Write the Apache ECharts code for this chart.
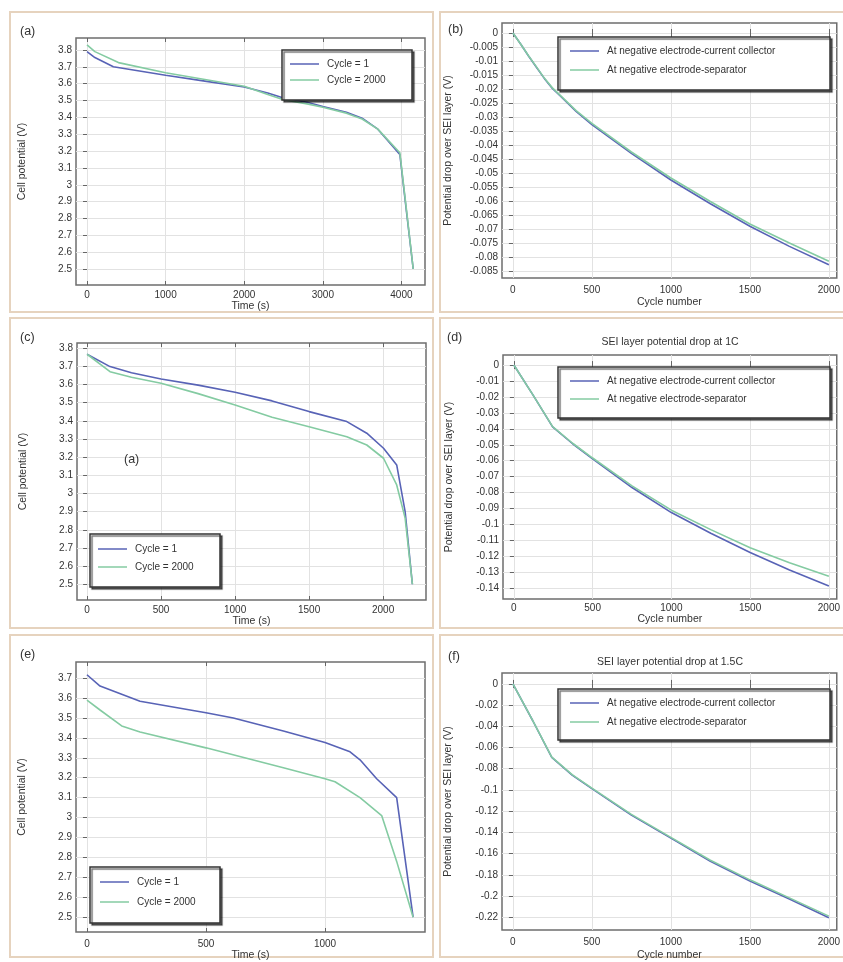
<!DOCTYPE html>
<html><head><meta charset="utf-8">
<script src="https://cdn.jsdelivr.net/npm/echarts@6/dist/echarts.min.js"></script>
<style>html,body{margin:0;padding:0;background:#fff}#c{width:843px;height:962px}</style>
</head><body><div id="c"></div>
<script>
// ---------------- DATA ----------------
// (a) discharge curves, time (s) vs cell potential (V)
const a_t_c1    = [0,100,335,1000,1500,2000,2300,2500,2800,3000,3300,3500,3700,3980,4067,4150];
const a_v_c1    = [3.79,3.755,3.70,3.65,3.615,3.58,3.545,3.515,3.49,3.465,3.43,3.395,3.33,3.18,2.83,2.5];
const a_t_c2000 = [0,100,400,1000,1500,2000,2300,2500,2800,3000,3300,3500,3700,3980,4067,4150];
const a_v_c2000 = [3.83,3.79,3.725,3.665,3.625,3.585,3.535,3.505,3.48,3.46,3.425,3.39,3.33,3.19,2.84,2.5];
// (b) SEI potential drop (V) vs cycle number
const b_n   = [0,50,100,150,200,250,300,400,500,750,1000,1250,1500,1750,2000];
const b_cc  = [0,-0.004,-0.0083,-0.0123,-0.0163,-0.0198,-0.0225,-0.028,-0.0327,-0.043,-0.0525,-0.061,-0.069,-0.0762,-0.0828];
const b_sep = [0,-0.004,-0.0082,-0.0122,-0.0162,-0.0196,-0.0223,-0.0277,-0.0323,-0.0425,-0.0518,-0.0602,-0.0682,-0.075,-0.0815];
// (c) discharge curves
const c_t_c1    = [0,155,300,500,750,1000,1250,1500,1755,1890,2003,2092,2149,2198];
const c_v_c1    = [3.767,3.699,3.665,3.631,3.597,3.558,3.51,3.451,3.396,3.332,3.249,3.157,2.90,2.5];
const c_t_c2000 = [0,155,300,500,750,1000,1250,1500,1755,1890,2003,2092,2149,2198];
const c_v_c2000 = [3.767,3.671,3.64,3.607,3.55,3.488,3.42,3.368,3.313,3.267,3.194,3.047,2.864,2.5];
// (d) SEI potential drop at 1C
const d_n   = [0,125,246,375,500,750,1000,1250,1500,1750,2000];
const d_cc  = [0,-0.0193,-0.0388,-0.0495,-0.0588,-0.0768,-0.0925,-0.1055,-0.1175,-0.1285,-0.1385];
const d_sep = [0,-0.0193,-0.0386,-0.0492,-0.0583,-0.0758,-0.091,-0.1032,-0.1145,-0.124,-0.1325];
// (e) discharge curves
const e_t_c1    = [0,55,223,500,615,825,1000,1105,1147,1217,1301,1370];
const e_v_c1    = [3.717,3.66,3.584,3.526,3.50,3.435,3.377,3.33,3.29,3.195,3.10,2.5];
const e_t_c2000 = [0,55,146,223,500,825,1000,1042,1147,1238,1301,1370];
const e_v_c2000 = [3.59,3.54,3.46,3.43,3.35,3.25,3.195,3.18,3.10,3.01,2.78,2.5];
// (f) SEI potential drop at 1.5C
const f_n   = [0,125,246,375,500,750,1000,1250,1500,1750,2000];
const f_cc  = [0,-0.0345,-0.0693,-0.086,-0.0988,-0.1237,-0.1454,-0.1672,-0.1858,-0.2029,-0.2205];
const f_sep = [0,-0.0343,-0.069,-0.0855,-0.0983,-0.123,-0.1447,-0.1663,-0.1848,-0.2018,-0.219];

// tick values
const aXTicks = [0,1000,2000,3000,4000];
const cXTicks = [0,500,1000,1500,2000];
const eXTicks = [0,500,1000];
const nXTicks = [0,500,1000,1500,2000];
const acYTicks = [2.5,2.6,2.7,2.8,2.9,3.0,3.1,3.2,3.3,3.4,3.5,3.6,3.7,3.8];
const eYTicks  = [2.5,2.6,2.7,2.8,2.9,3.0,3.1,3.2,3.3,3.4,3.5,3.6,3.7];
const bYTicks  = [0,-0.005,-0.01,-0.015,-0.02,-0.025,-0.03,-0.035,-0.04,-0.045,-0.05,-0.055,-0.06,-0.065,-0.07,-0.075,-0.08,-0.085];
const dYTicks  = [0,-0.01,-0.02,-0.03,-0.04,-0.05,-0.06,-0.07,-0.08,-0.09,-0.1,-0.11,-0.12,-0.13,-0.14];
const fYTicks  = [0,-0.02,-0.04,-0.06,-0.08,-0.1,-0.12,-0.14,-0.16,-0.18,-0.2,-0.22];

const cycleNames = ['Cycle = 1','Cycle = 2000'];
const seiNames = ['At negative electrode-current collector','At negative electrode-separator'];

// ---------------- STYLE / LAYOUT ----------------
const FONT = '"Liberation Sans", Arial, sans-serif';
const BLUE = '#5863b6';
const GREEN = '#84cba2';
const zip = (xs, ys) => xs.map((x, i) => [x, ys[i]]);
const fmtV = v => String(Math.round(v * 10) / 10);
const fmtS = v => { const r = parseFloat(v.toFixed(3)); return r === 0 ? '0' : String(r); };

const panels = [
  {grid:{left:76,top:38,width:349,height:247}, x:[-140,4300], y:[2.405,3.871], xt:aXTicks, yt:acYTicks, fy:fmtV,
   xName:'Time (s)', yName:'Cell potential (V)', lm:5, ng:12.5, names:cycleNames,
   s:[zip(a_t_c1,a_v_c1), zip(a_t_c2000,a_v_c2000)]},
  {grid:{left:502,top:23,width:339,height:255}, x:[-69,2050], y:[-0.0875,0.00357], xt:nXTicks, yt:bYTicks, fy:fmtS,
   xName:'Cycle number', yName:'Potential drop over SEI layer (V)', lm:7, ng:19, names:seiNames,
   s:[zip(b_n,b_cc), zip(b_n,b_sep)]},
  {grid:{left:77,top:343,width:349,height:257}, x:[-68,2290], y:[2.413,3.829], xt:cXTicks, yt:acYTicks, fy:fmtV,
   xName:'Time (s)', yName:'Cell potential (V)', lm:5, ng:15, names:cycleNames,
   s:[zip(c_t_c1,c_v_c1), zip(c_t_c2000,c_v_c2000)]},
  {grid:{left:503,top:355,width:338,height:244}, x:[-69,2050], y:[-0.1467,0.0063], xt:nXTicks, yt:dYTicks, fy:fmtS,
   xName:'Cycle number', yName:'Potential drop over SEI layer (V)', lm:4, ng:14, names:seiNames,
   s:[zip(d_n,d_cc), zip(d_n,d_sep)]},
  {grid:{left:76,top:662,width:349,height:273}, x:[-46,1420], y:[2.4255,3.781], xt:eXTicks, yt:eYTicks, fy:fmtV,
   xName:'Time (s)', yName:'Cell potential (V)', lm:7, ng:18, names:cycleNames,
   s:[zip(e_t_c1,e_v_c1), zip(e_t_c2000,e_v_c2000)]},
  {grid:{left:502,top:673,width:339,height:260}, x:[-69,2050], y:[-0.2321,0.0103], xt:nXTicks, yt:fYTicks, fy:fmtS,
   xName:'Cycle number', yName:'Potential drop over SEI layer (V)', lm:7, ng:20, names:seiNames,
   s:[zip(f_n,f_cc), zip(f_n,f_sep)]}
];

const legendPos = [
  {left:290, top:59, itemGap:6},
  {left:570, top:46, itemGap:9},
  {left:98,  top:544, itemGap:8},
  {left:570, top:376, itemGap:8},
  {left:100, top:877, itemGap:10},
  {left:570, top:698, itemGap:9}
];
const legendBoxes = [
  [282,50,130,50],[558,37,272,53],[90,534,130,53],[558,367,272,51],[90,867,130,56],[558,689,272,51]
];

const grids = [], xAxes = [], yAxes = [], series = [], legends = [];
panels.forEach((p, i) => {
  grids.push(Object.assign({show:true, borderColor:'#6e6e6e', borderWidth:1.5, backgroundColor:'#fff'}, p.grid));
  const tickStyle = {lineStyle:{color:'#666', width:1}};
  xAxes.push({type:'value', gridIndex:i, min:p.x[0], max:p.x[1], position:'bottom',
    name:p.xName, nameLocation:'middle', nameGap:p.ng,
    nameTextStyle:{fontFamily:FONT, fontSize:10.5, color:'#333'},
    axisLine:{show:false},
    axisTick:{show:true, inside:true, length:4, customValues:p.xt, lineStyle:{color:'#666'}},
    axisLabel:{show:true, customValues:p.xt, margin:p.lm, fontFamily:FONT, fontSize:10, color:'#333', formatter:v => String(v)},
    splitLine:{show:true, lineStyle:{color:'#e2e2e2', width:1}}
  });
  xAxes.push({type:'value', gridIndex:i, min:p.x[0], max:p.x[1], position:'top',
    axisLine:{show:false}, axisLabel:{show:false}, splitLine:{show:false},
    axisTick:{show:true, inside:true, length:4, customValues:p.xt, lineStyle:{color:'#666'}}});
  yAxes.push({type:'value', gridIndex:i, min:p.y[0], max:p.y[1], position:'left',
    name:p.yName, nameLocation:'middle', nameGap:48, nameRotate:90,
    nameTextStyle:{fontFamily:FONT, fontSize:10.5, color:'#333'},
    axisLine:{show:false},
    axisTick:{show:true, inside:false, length:3, customValues:p.yt, lineStyle:{color:'#666'}},
    axisLabel:{show:true, customValues:p.yt, margin:4, fontFamily:FONT, fontSize:10, color:'#333', formatter:p.fy},
    splitLine:{show:true, lineStyle:{color:'#e2e2e2', width:1}}
  });
  yAxes.push({type:'value', gridIndex:i, min:p.y[0], max:p.y[1], position:'right',
    axisLine:{show:false}, axisLabel:{show:false}, splitLine:{show:false},
    axisTick:{show:true, inside:true, length:4, customValues:p.yt, lineStyle:{color:'#666'}}});
  [BLUE, GREEN].forEach((col, k) => {
    series.push({type:'line', name:p.names[k], xAxisIndex:2*i, yAxisIndex:2*i, data:p.s[k],
      showSymbol:false, symbol:'none', silent:true, animation:false, z:2+k,
      color:col, lineStyle:{color:col, width:1.6}});
  });
  legends.push(Object.assign({orient:'vertical', padding:0, icon:'rect', itemWidth:29, itemHeight:1.5,
    data:p.names, selectedMode:false, z:10,
    textStyle:{fontFamily:FONT, fontSize:10, color:'#333', padding:[0,0,0,3]}}, legendPos[i]));
});

const graphic = [];
// panel frames
[[10,12,423,300],[440,12,410,300],[10,318,423,310],[440,318,410,310],[10,635,423,322],[440,635,410,322]].forEach(r => {
  graphic.push({type:'rect', shape:{x:r[0], y:r[1], width:r[2], height:r[3]}, z:-1,
    style:{fill:'none', stroke:'#e6d3be', lineWidth:2}});
});
// legend boxes
legendBoxes.forEach(r => {
  graphic.push({type:'rect', shape:{x:r[0], y:r[1], width:r[2], height:r[3]}, z:5,
    style:{fill:'#fff', stroke:'#333', lineWidth:1.5, shadowColor:'rgba(0,0,0,0.55)', shadowOffsetX:2, shadowOffsetY:2, shadowBlur:1}});
});
// panel labels
[['(a)',20,32],['(b)',448,30],['(c)',20,338],['(d)',447,338],['(e)',20,655],['(f)',448,657],['(a)',124,460]].forEach(t => {
  graphic.push({type:'text', x:t[1], y:t[2], z:6,
    style:{text:t[0], fontFamily:FONT, fontSize:12.5, fill:'#333', verticalAlign:'middle', align:'left'}});
});
// titles
[['SEI layer potential drop at 1C',670,342],['SEI layer potential drop at 1.5C',670,662]].forEach(t => {
  graphic.push({type:'text', x:t[1], y:t[2], z:6,
    style:{text:t[0], fontFamily:FONT, fontSize:10.5, fill:'#333', verticalAlign:'middle', align:'center'}});
});

const chart = echarts.init(document.getElementById('c'), null, {renderer:'canvas'});
chart.setOption({
  animation:false,
  backgroundColor:'#fff',
  grid:grids, xAxis:xAxes, yAxis:yAxes, series:series, legend:legends, graphic:graphic
});
</script>
</body></html>
